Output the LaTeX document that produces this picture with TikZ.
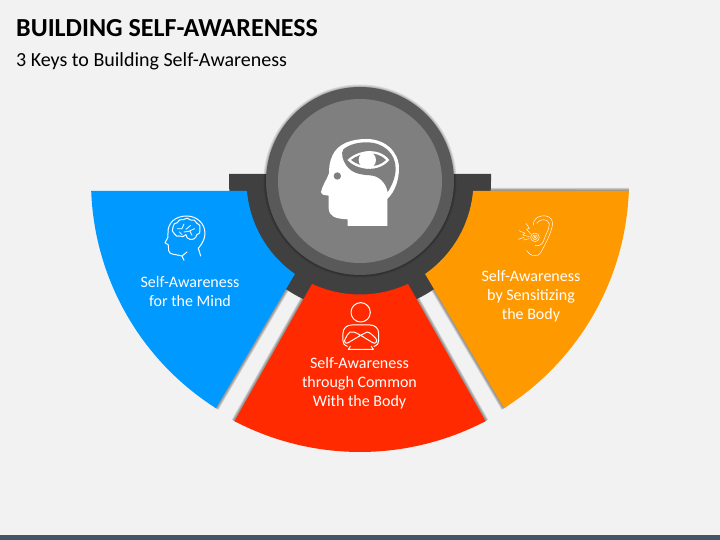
\documentclass[tikz,border=0pt]{standalone}
\usepackage{fontspec}
\setmainfont{Carlito}
\usetikzlibrary{calc}
\definecolor{pagegray}{HTML}{F2F2F2}
\definecolor{footerslate}{HTML}{44546A}
\definecolor{mindblue}{HTML}{0099FF}
\definecolor{commonred}{HTML}{FF2A00}
\definecolor{bodyorange}{HTML}{FF9900}
\definecolor{bracketdark}{HTML}{404040}
\definecolor{ringdark}{HTML}{595959}
\definecolor{discgray}{HTML}{7F7F7F}
\tikzset{
  headingtext/.style={anchor=base west, font=\fontsize{26}{30}\selectfont\bfseries, text=black, inner sep=0pt},
  subheadtext/.style={anchor=base west, font=\fontsize{20}{24}\selectfont, text=black, inner sep=0pt},
  keytext/.style={align=center, font=\fontsize{16}{19}\selectfont, text=white, inner sep=0pt},
  iconline/.style={draw=white, line width=1pt, line cap=round, line join=round},
  earline/.style={draw=white, line width=.45pt, line cap=round, line join=round}
}
\begin{document}
\begin{tikzpicture}[x=1pt,y=1pt]
    \useasboundingbox (0,0) rectangle (720,540);
    \fill[pagegray] (0,0) rectangle (720,540);
    \fill[footerslate] (0,0) rectangle (720,5);
    % Heading
    \node[headingtext] (heading) at (16,503) {BUILDING SELF-AWARENESS};
    \node[subheadtext] (subhead) at (16,473.5) {3 Keys to Building Self-Awareness};
    \coordinate (hub) at (360,359);
    % Soft shadows along the straight wedge edges
    \foreach \oang/\iang/\orad in {237.6/235/269, 302.4/305/269, 242.4/245/271, 297.6/295/271, 357.87/355/269} {
      \foreach \swidth in {6,4.2,2.4} {
        \draw[black, opacity=0.14, line width=\swidth pt] ($(hub)+(\oang:\orad)$) -- ($(hub)+(\iang:113.5)$);
      }
    }
    % Bracket behind the disc
    \fill[bracketdark] (229,366) -- (491,366) -- (491,359) arc[start angle=0, end angle=-180, radius=131] -- cycle;
    % Three wedges
    \foreach \wcol/\outa/\outb/\inna/\innb/\wrad in {
        mindblue/182.13/237.6/235/185/269,
        bodyorange/302.4/357.87/355/305/269,
        commonred/242.4/297.6/295/245/271} {
      \fill[\wcol] (hub) ++(\outa:\wrad) arc[start angle=\outa, end angle=\outb, radius=\wrad]
        -- ($(hub)+(\inna:113.5)$) arc[start angle=\inna, end angle=\innb, radius=113.5] -- cycle;
    }
    % Central disc
    \foreach \srad in {96.5,95.5,94.6} {
      \fill[black, opacity=0.10] (hub) circle (\srad);
    }
    \fill[ringdark] (hub) circle (94);
    \fill[discgray] (hub) circle (82);
    % Head with eye
    \begin{scope}[shift={(310,410)}, x=0.3333pt, y=-0.3333pt]
      \fill[white] (113,288) -- (232,288) -- (232,207) .. controls (255,185) and (267,150) .. (267,115)
        .. controls (267,65) and (225,27) .. (170,27) .. controls (125,27) and (85,40) .. (68,75)
        .. controls (58,95) and (57,115) .. (57,130) .. controls (50,150) and (35,170) .. (33,187)
        .. controls (35,197) and (50,195) .. (56,197) -- (56,235) .. controls (58,260) and (75,266) .. (113,268) -- cycle;
      \fill[discgray] (100,58) .. controls (120,42) and (145,37) .. (170,37)
        .. controls (220,37) and (257,70) .. (257,115) .. controls (257,140) and (247,165) .. (233,186)
        .. controls (228,160) and (210,138) .. (180,136) .. controls (150,134) and (125,130) .. (108,105)
        .. controls (98,90) and (92,70) .. (100,58) -- cycle;
      \fill[white] (112,90) .. controls (140,62) and (205,48) .. (238,90) .. controls (205,130) and (140,120) .. (112,90) -- cycle;
      \fill[discgray] (123,90) .. controls (150,68) and (200,60) .. (228,90) .. controls (200,118) and (150,112) .. (123,90) -- cycle;
      \fill[white] (172,90) circle (26);
      \fill[discgray] (82,138) circle (11);
    \end{scope}
    % Brain icon
    \begin{scope}[shift={(80,360)}, x=0.3333pt, y=-0.3333pt]
      \draw[iconline] (362,228) -- (355,205) .. controls (368,190) and (375,175) .. (375,160)
        .. controls (375,130) and (350,108) .. (320,108) .. controls (285,108) and (262,130) .. (264,160)
        -- (264,172) -- (255,188) -- (265,195) -- (266,212) .. controls (268,225) and (285,222) .. (306,228) -- (312,241);
      \draw[iconline] (306,228) -- (321,216);
      \draw[iconline] (284,162) to[bend left=50] (279,142) to[bend left=50] (292,128) to[bend left=50] (310,119)
        to[bend left=50] (332,120) to[bend left=50] (350,129) to[bend left=50] (360,148) to[bend left=50] (350,165)
        to[bend left=50] (330,178) to[bend left=40] (318,164) to[bend left=40] (298,168) to[bend left=50] (284,162) -- cycle;
      \draw[iconline, line width=.8pt] (292,146) -- (306,146) -- (312,132) (318,148) -- (332,136) (344,146) -- (326,154) -- (312,156)
        (298,156) -- (306,164) (330,154) -- (336,166);
    \end{scope}
    % Ear icon
    \begin{scope}[shift={(420,360)}, x=0.3333pt, y=-0.3333pt]
      \draw[earline] (320,212) .. controls (330,228) and (350,235) .. (362,218)
        .. controls (372,200) and (395,160) .. (398,130) .. controls (398,112) and (380,105) .. (365,108) .. controls (350,110) and (340,120) .. (340,135);
      \draw[earline] (350,130) .. controls (360,115) and (385,115) .. (388,132) .. controls (388,150) and (375,165) .. (370,185) .. controls (365,195) and (355,200) .. (345,196);
      \draw[earline] (345,172) circle (13) (345,172) circle (7) (345,172) circle (3);
      \draw[earline] (318,130) -- (328,145) -- (320,148) -- (332,162)
        (297,152) -- (315,160) -- (308,165) -- (328,170) (295,178) -- (312,172) -- (312,180) -- (328,176);
    \end{scope}
    % Person icon
    \begin{scope}[shift={(230,270)}, x=0.3333pt, y=-0.3333pt]
      \draw[iconline] (392,127) circle (29);
      \draw[iconline] (352,229) .. controls (342,225) and (339,220) .. (339,212) -- (339,190)
        .. controls (339,175) and (350,165) .. (365,165) -- (420,165) .. controls (435,165) and (446,175) .. (446,190)
        -- (446,212) .. controls (446,220) and (443,225) .. (432,229);
      \draw[iconline] (360,186) .. controls (368,184) and (375,186) .. (392,196) -- (428,218) .. controls (436,224) and (444,214) .. (438,206)
        .. controls (428,195) and (420,188) .. (412,186) -- (392,196) -- (355,218) .. controls (347,224) and (340,214) .. (346,206)
        .. controls (350,198) and (354,190) .. (360,186) -- cycle;
      \draw[iconline] (361,229) -- (355,238) -- (430,238) -- (424,229);
    \end{scope}
    % Labels
    \node[keytext] (mindkey) at (190,248.5) {Self-Awareness\\for the Mind};
    \node[keytext] (bodykey) at (531,244) {Self-Awareness\\by Sensitizing\\the Body};
    \node[keytext] (commonkey) at (359.5,157) {Self-Awareness\\through Common\\With the Body};
  \end{tikzpicture}
\end{document}
